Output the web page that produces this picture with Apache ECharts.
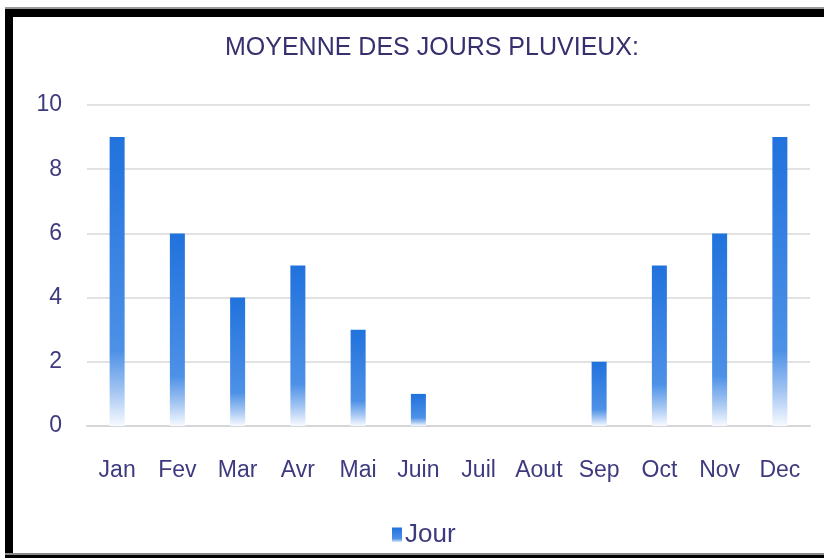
<!DOCTYPE html>
<html>
<head>
<meta charset="utf-8">
<title>Moyenne des jours pluvieux</title>
<script src="https://cdn.jsdelivr.net/npm/echarts@6/dist/echarts.min.js"></script>
<style>
  html, body { margin: 0; padding: 0; background: #ffffff; }
  #chart { width: 824px; height: 558px; }
</style>
</head>
<body>
<div id="chart"></div>
<script>
// Monthly average number of rainy days
const months = ['Jan', 'Fev', 'Mar', 'Avr', 'Mai', 'Juin', 'Juil', 'Aout', 'Sep', 'Oct', 'Nov', 'Dec'];
const rainyDays = [9, 6, 4, 5, 3, 1, 0, 0, 2, 5, 6, 9];
const yTicks = [0, 2, 4, 6, 8, 10];
const seriesName = 'Jour';
const chartTitle = 'MOYENNE DES JOURS PLUVIEUX:';

const textFont = '"Liberation Sans Narrow", "Liberation Sans", "DejaVu Sans Condensed", sans-serif';
const textColor = '#3e3a7e';

// Vertical fade: solid blue at the top of each bar, vanishing to white at its base
const barFill = new echarts.graphic.LinearGradient(0, 0, 0, 1, [
  { offset: 0, color: '#2172dd' },
  { offset: 0.74, color: '#4d91e7' },
  { offset: 0.88, color: '#a3c5f2' },
  { offset: 1, color: '#f7faff' }
]);

const chart = echarts.init(document.getElementById('chart'), null, { renderer: 'canvas' });

chart.setOption({
  animation: false,
  backgroundColor: '#ffffff',
  title: {
    text: chartTitle,
    left: 220,
    top: 31,
    textStyle: {
      fontFamily: textFont,
      fontSize: 25,
      fontWeight: 'normal',
      color: '#37306e'
    }
  },
  legend: {
    data: [seriesName],
    bottom: 5,
    left: 387,
    itemWidth: 10,
    itemHeight: 15,
    itemGap: 6,
    icon: 'rect',
    textStyle: { fontFamily: textFont, fontSize: 26, color: textColor, padding: [0, 0, 0, -2] }
  },
  grid: { left: 87, right: 14, top: 105, bottom: 132, containLabel: false },
  xAxis: {
    type: 'category',
    data: months,
    axisLine: { show: true, lineStyle: { color: '#d6d6d6', width: 2 } },
    axisTick: { show: false },
    axisLabel: {
      margin: 33,
      fontFamily: textFont,
      fontSize: 23,
      color: textColor,
      interval: 0
    }
  },
  yAxis: {
    type: 'value',
    min: yTicks[0],
    max: yTicks[yTicks.length - 1],
    interval: yTicks[1] - yTicks[0],
    axisLine: { show: false },
    axisTick: { show: false },
    axisLabel: {
      margin: 25,
      fontFamily: textFont,
      fontSize: 23,
      color: textColor
    },
    splitLine: { lineStyle: { color: '#e2e2e2', width: 2 } }
  },
  series: [{
    name: seriesName,
    type: 'bar',
    data: rainyDays,
    barWidth: 15,
    itemStyle: { color: barFill }
  }],
  graphic: [
    // frame around the chart: left, top and bottom edges
    { type: 'rect', left: 5, top: 9, shape: { width: 8, height: 549 }, style: { fill: '#000000' }, silent: true },
    { type: 'rect', left: 5, top: 9, shape: { width: 819, height: 8 }, style: { fill: '#000000' }, silent: true },
    { type: 'rect', left: 5, top: 7, shape: { width: 819, height: 2 }, style: { fill: '#9a9a9a' }, silent: true },
    { type: 'rect', left: 5, top: 553, shape: { width: 819, height: 2 }, style: { fill: '#8a8a8a' }, silent: true },
    { type: 'rect', left: 5, top: 555, shape: { width: 819, height: 3 }, style: { fill: '#000000' }, silent: true }
  ]
});
</script>
</body>
</html>
